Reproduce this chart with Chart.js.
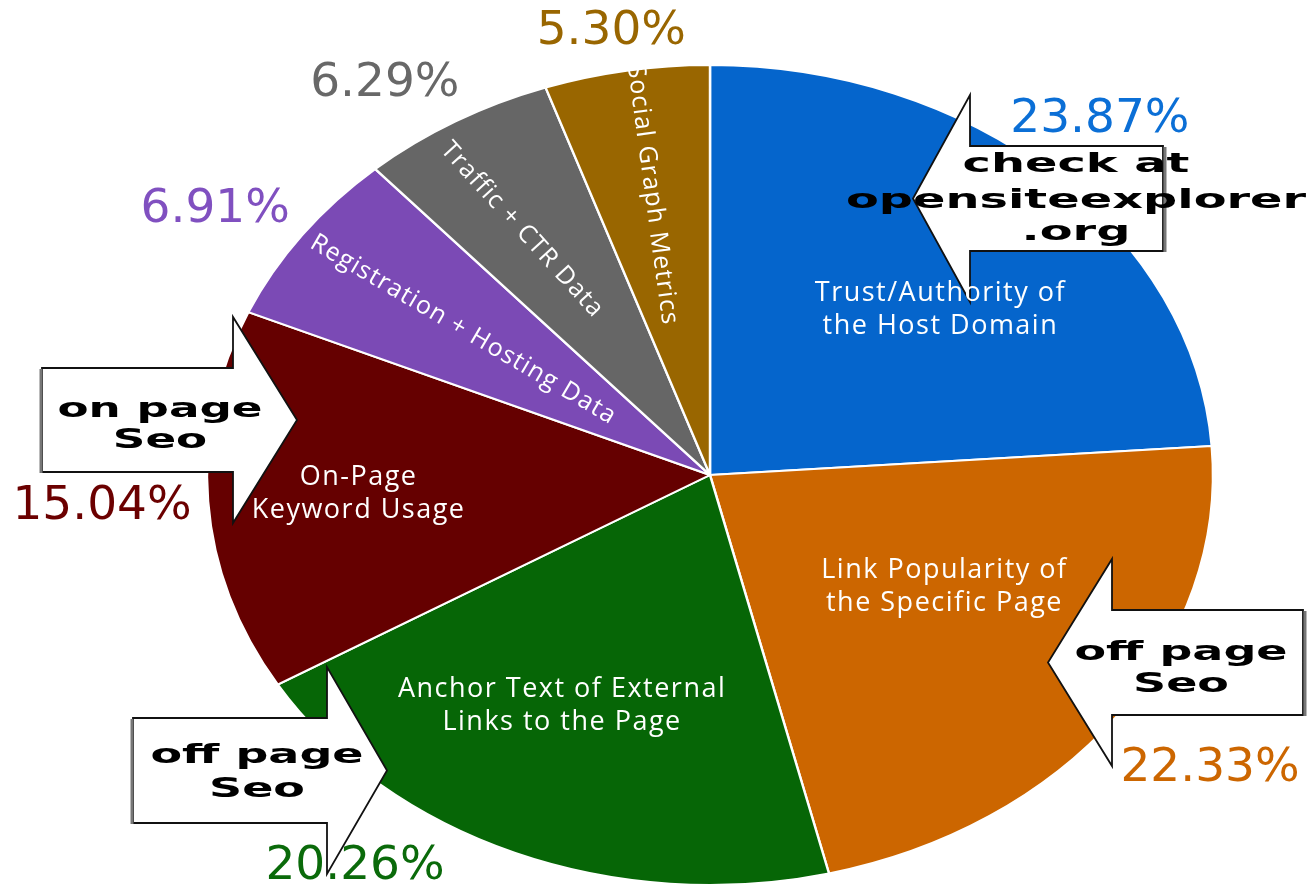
<!DOCTYPE html>
<html>
<head>
<meta charset="utf-8">
<script src="https://cdn.jsdelivr.net/npm/chart.js@4/dist/chart.umd.min.js"></script>
<style>
  html, body { margin: 0; padding: 0; background: #fff; }
  #main-container { position: relative; width: 1312px; height: 888px; }
</style>
</head>
<body>
<div id="main-container"><canvas id="chart" width="1312" height="888"></canvas></div>
<script>
// slice names, clockwise from 12 o'clock
const SLICE_LABELS = [
  ["Trust/Authority of", "the Host Domain"],
  ["Link Popularity of", "the Specific Page"],
  ["Anchor Text of External", "Links to the Page"],
  ["On-Page", "Keyword Usage"],
  ["Registration + Hosting Data"],
  ["Traffic + CTR Data"],
  ["Social Graph Metrics"],
];
const SHARE = [23.87, 22.33, 20.26, 15.04, 6.91, 6.29, 5.3];

const SLICE_COLORS = ["#0565cc", "#cc6600", "#066606", "#650000", "#7b4ab5", "#666666", "#996600"];
const PCT_COLORS = ["#0b6fd6", "#cc6600", "#0a6a0a", "#6b0000", "#8050c0", "#686868", "#996600"];

// callouts laid over the pie
const CALLOUTS = [
  { lines: ["on page", "Seo"], dir: 1, left: 42, top: 368, right: 233, bottom: 472, tip: 297, textX: 160, base: [417, 448], stretch: 1.74 },
  { lines: ["off page", "Seo"], dir: 1, left: 133, top: 718, right: 327, bottom: 823, tip: 387, textX: 257, base: [763, 797], stretch: 1.77 },
  { lines: ["check at", "opensiteexplorer", ".org"], dir: -1, left: 970, top: 146, right: 1163, bottom: 251, tip: 913, textX: 1076, base: [172, 208, 240], stretch: 1.84 },
  { lines: ["off page", "Seo"], dir: -1, left: 1112, top: 610, right: 1303, bottom: 715, tip: 1048, textX: 1181, base: [660, 692], stretch: 1.77 },
];

const STRETCH_X = 503 / 410;
// label placement: fraction of radius and small angular nudge (deg)
const INNER_POS = [[0.61, 5.7], [0.54, -5.8], [0.635, 4.8], [0.70, 0], [0.605, 0], [0.705, -1.6], [0.693, 0]];
const INNER_TILT = [null, null, null, null, 0, -5, 4];
const OUTER_POS = [[1.166, -1.3], [1.223, -0.5], [1.184, 13.8], [1.211, 0.2], [1.18, -2.3], [1.156, -3.6], [1.103, -0.7]];

const deg = Math.PI / 180;

function ellipsePoint(arc, frac, angle) {
  return {
    x: arc.x + Math.cos(angle) * arc.outerRadius * STRETCH_X * frac,
    y: arc.y + Math.sin(angle) * arc.outerRadius * frac,
  };
}

const STRETCH_PLUGIN = {
  id: "stretch",
  beforeDatasetsDraw(chart) {
    const arc = chart.getDatasetMeta(0).data[0];
    const ctx = chart.ctx;
    ctx.save();
    ctx.translate(arc.x, 0);
    ctx.scale(STRETCH_X, 1);
    ctx.translate(-arc.x, 0);
  },
  afterDatasetsDraw(chart) {
    chart.ctx.restore();
  },
};

function drawCallout(ctx, c) {
  const midY = (c.top + c.bottom) / 2;
  const flare = 51;
  ctx.save();
  ctx.beginPath();
  if (c.dir > 0) {
    ctx.moveTo(c.left, c.top);
    ctx.lineTo(c.right, c.top);
    ctx.lineTo(c.right, c.top - flare);
    ctx.lineTo(c.tip, midY);
    ctx.lineTo(c.right, c.bottom + flare);
    ctx.lineTo(c.right, c.bottom);
    ctx.lineTo(c.left, c.bottom);
  } else {
    ctx.moveTo(c.right, c.top);
    ctx.lineTo(c.left, c.top);
    ctx.lineTo(c.left, c.top - flare);
    ctx.lineTo(c.tip, midY);
    ctx.lineTo(c.left, c.bottom + flare);
    ctx.lineTo(c.left, c.bottom);
    ctx.lineTo(c.right, c.bottom);
  }
  ctx.closePath();
  ctx.fillStyle = "#ffffff";
  ctx.fill();
  ctx.lineWidth = 1.8;
  ctx.strokeStyle = "#111";
  ctx.stroke();
  // grey edge on the tail side
  const tailX = c.dir > 0 ? c.left - 1 : c.right + 2;
  ctx.beginPath();
  ctx.moveTo(tailX, c.top + 1);
  ctx.lineTo(tailX, c.bottom + 1);
  ctx.lineWidth = 3;
  ctx.strokeStyle = "#777";
  ctx.stroke();

  ctx.fillStyle = "#000";
  ctx.font = "bold 27px 'DejaVu Sans'";
  ctx.textAlign = "center";
  ctx.textBaseline = "alphabetic";
  c.lines.forEach((line, i) => {
    ctx.save();
    ctx.translate(c.textX, c.base[i]);
    ctx.scale(c.stretch * 26 / 27, 1);
    ctx.fillText(line, 0, 0);
    ctx.restore();
  });
  ctx.restore();
}

const LABEL_PLUGIN = {
  id: "sliceLabels",
  afterDraw(chart) {
    const ctx = chart.ctx;
    const arcs = chart.getDatasetMeta(0).data;

    CALLOUTS.forEach((c) => drawCallout(ctx, c));

    ctx.save();
    ctx.textAlign = "center";
    ctx.textBaseline = "middle";
    arcs.forEach((arc, i) => {
      const mid = (arc.startAngle + arc.endAngle) / 2;
      // inner text
      const [f, nudge] = INNER_POS[i];
      const a = mid + nudge * deg;
      const p = ellipsePoint(arc, f, a);
      const tilted = INNER_TILT[i] !== null;
      ctx.fillStyle = "#ffffff";
      ctx.font = tilted ? "25px 'Open Sans'" : "27px 'Open Sans'";
      ctx.letterSpacing = tilted ? "1.2px" : "1.5px";
      const lines = SLICE_LABELS[i];
      ctx.save();
      ctx.translate(p.x, p.y);
      if (tilted) {
        const rot = Math.atan2(-Math.sin(a), -Math.cos(a) * STRETCH_X) + INNER_TILT[i] * deg;
        ctx.rotate(rot);
      }
      const lh = 33;
      lines.forEach((line, k) => {
        ctx.fillText(line, 0, (k - (lines.length - 1) / 2) * lh);
      });
      ctx.restore();

      // percentage outside
      const [of, onudge] = OUTER_POS[i];
      const q = ellipsePoint(arc, of, mid + onudge * deg);
      ctx.letterSpacing = "0px";
      ctx.font = "47px 'DejaVu Sans'";
      ctx.fillStyle = PCT_COLORS[i];
      ctx.fillText(SHARE[i].toFixed(2) + "%", q.x, q.y + 2);
    });
    ctx.restore();
  },
};

new Chart(document.getElementById("chart"), {
  type: "pie",
  data: {
    labels: SLICE_LABELS.map((l) => l.join(" ")),
    datasets: [
      {
        data: SHARE,
        backgroundColor: SLICE_COLORS,
        borderColor: "#ffffff",
        borderWidth: 2,
      },
    ],
  },
  options: {
    responsive: false,
    animation: false,
    events: [],
    layout: { padding: { top: 64, bottom: 2, left: 299, right: 191 } },
    plugins: {
      legend: { display: false },
      tooltip: { enabled: false },
    },
  },
  plugins: [STRETCH_PLUGIN, LABEL_PLUGIN],
});
</script>
</body>
</html>
